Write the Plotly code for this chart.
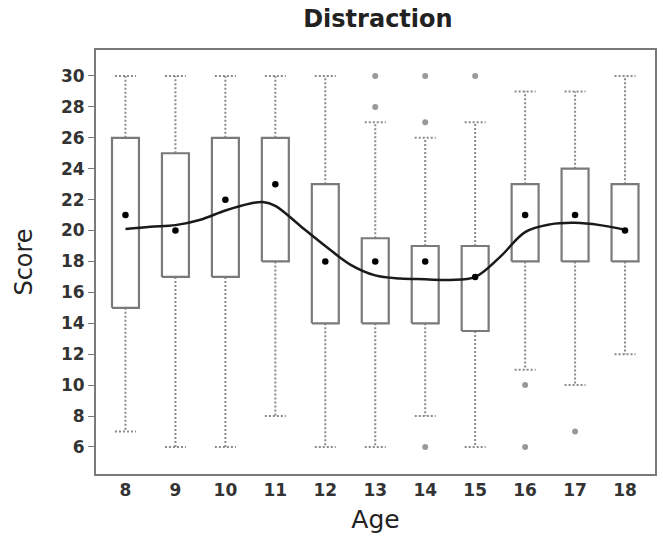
import plotly.graph_objects as go

# Summary statistics per age group
ages = [8, 9, 10, 11, 12, 13, 14, 15, 16, 17, 18]
q1 = [15, 17, 17, 18, 14, 14, 14, 13.5, 18, 18, 18]
q3 = [26, 25, 26, 26, 23, 19.5, 19, 19, 23, 24, 23]
medians = [21, 20, 22, 23, 18, 18, 18, 17, 21, 21, 20]
low_whisker = [7, 6, 6, 8, 6, 6, 8, 6, 11, 10, 12]
high_whisker = [30, 30, 30, 30, 30, 27, 26, 27, 29, 29, 30]

# Outlying observations
outlier_age = [13, 13, 14, 14, 14, 15, 16, 16, 17]
outlier_score = [30, 28, 30, 27, 6, 30, 10, 6, 7]

# Smoothed trend of score over age
trend_age = [8, 8.5, 9, 9.5, 10, 10.5, 10.75, 11, 11.5, 12, 12.5, 13, 13.5,
             14, 14.5, 15, 15.5, 16, 16.5, 17, 17.5, 18]
trend_score = [20.1, 20.25, 20.35, 20.7, 21.3, 21.75, 21.85, 21.6, 20.3, 19.0,
               17.8, 17.1, 16.9, 16.85, 16.8, 17.0, 18.3, 19.9, 20.4, 20.5,
               20.35, 20.05]

box_half = 0.27
cap_half = 0.21
gray = "#7a7a7a"
font_family = "DejaVu Sans, Verdana, sans-serif"

box_x, box_y = [], []
wh_x, wh_y = [], []
for a, lo, hi, b1, b3 in zip(ages, low_whisker, high_whisker, q1, q3):
    box_x += [a - box_half, a + box_half, a + box_half, a - box_half, a - box_half, None]
    box_y += [b1, b1, b3, b3, b1, None]
    wh_x += [a, a, None, a, a, None,
             a - cap_half, a + cap_half, None, a - cap_half, a + cap_half, None]
    wh_y += [b3, hi, None, b1, lo, None, hi, hi, None, lo, lo, None]

fig = go.Figure()
fig.add_trace(go.Scatter(x=wh_x, y=wh_y, mode="lines",
                         line=dict(color="#8a8a8a", width=2, dash="2px,2px"),
                         hoverinfo="skip"))
fig.add_trace(go.Scatter(x=box_x, y=box_y, mode="lines",
                         line=dict(color=gray, width=2.2), hoverinfo="skip"))
fig.add_trace(go.Scatter(x=outlier_age, y=outlier_score, mode="markers",
                         marker=dict(color="#999999", size=6)))
fig.add_trace(go.Scatter(x=trend_age, y=trend_score, mode="lines",
                         line=dict(color="#1a1a1a", width=2.5, shape="spline")))
fig.add_trace(go.Scatter(x=ages, y=medians, mode="markers",
                         marker=dict(color="black", size=6.5)))

fig.update_layout(
    width=663, height=541,
    margin=dict(l=96, r=6, t=50, b=67),
    paper_bgcolor="white", plot_bgcolor="white",
    showlegend=False,
    font=dict(family=font_family, color="#222"),
    title=dict(text="<b>Distraction</b>", x=0.57, xanchor="center",
               y=0.965, yanchor="middle", font=dict(size=24, color="#222")),
)
fig.update_xaxes(
    range=[7.41, 18.6], tickvals=ages, ticktext=[f"<b>{a}</b>" for a in ages],
    showgrid=False, zeroline=False, showline=True, mirror=True,
    linecolor=gray, linewidth=2, ticks="", tickfont=dict(size=17, color="#333"),
    title=dict(text="Age", font=dict(size=25, color="#222"), standoff=11),
)
yt = list(range(6, 31, 2))
fig.update_yaxes(
    range=[4.25, 31.68], tickvals=yt, ticktext=[f"<b>{v}</b>" for v in yt],
    showgrid=False, zeroline=False, showline=True, mirror=True,
    linecolor=gray, linewidth=2, ticks="outside", ticklen=6, tickcolor=gray,
    tickfont=dict(size=17, color="#333"),
    title=dict(text="Score", font=dict(size=24, color="#222"), standoff=22),
)

fig.write_html("out.html")
